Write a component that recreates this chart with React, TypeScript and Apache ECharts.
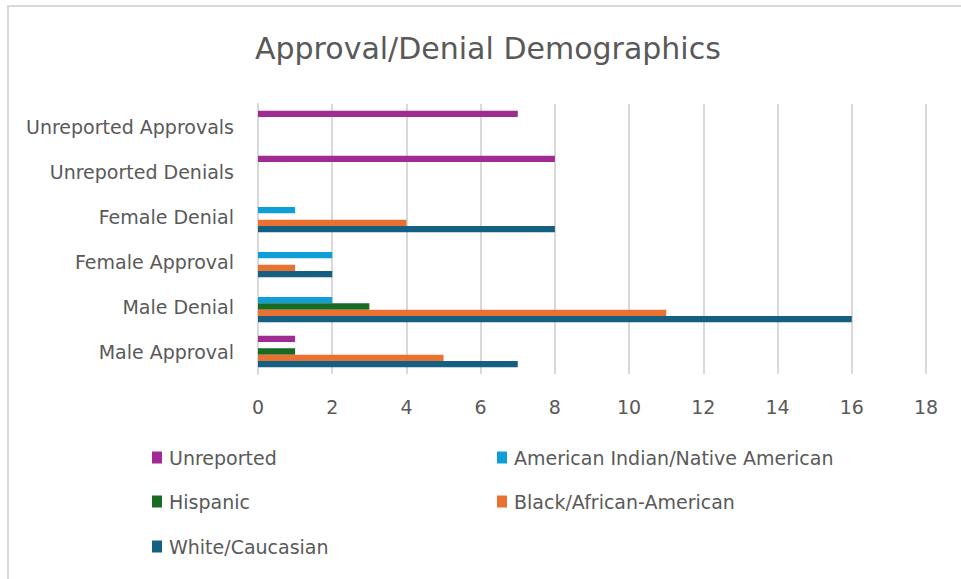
import React, { useEffect, useRef } from "react";
import * as echarts from "echarts";

const categories = [
  "Male Approval",
  "Male Denial",
  "Female Approval",
  "Female Denial",
  "Unreported Denials",
  "Unreported Approvals",
];

const seriesNames = [
  "Unreported",
  "American Indian/Native American",
  "Hispanic",
  "Black/African-American",
  "White/Caucasian",
];

const unreported = [1, 0, 0, 0, 8, 7];
const americanIndian = [0, 2, 2, 1, 0, 0];
const hispanic = [1, 3, 0, 0, 0, 0];
const black = [5, 11, 1, 4, 0, 0];
const white = [7, 16, 2, 8, 0, 0];

const xTicks = [0, 2, 4, 6, 8, 10, 12, 14, 16, 18];

const colors = ["#A02B93", "#0F9ED5", "#196B24", "#E97132", "#156082"];
const seriesValues = [unreported, americanIndian, hispanic, black, white];

const FONT = "'DejaVu Sans', sans-serif";
const TEXT = "#595959";

export default function App() {
  const ref = useRef<HTMLDivElement>(null);
  useEffect(() => {
    if (!ref.current) return;
    const chart = echarts.init(ref.current, undefined, { renderer: "svg" });
    const legendPos = [
      { left: 152, top: 448 },
      { left: 497, top: 448 },
      { left: 152, top: 492 },
      { left: 497, top: 492 },
      { left: 152, top: 537 },
    ];
    chart.setOption({
      animation: false,
      backgroundColor: "#ffffff",
      title: {
        text: "Approval/Denial Demographics",
        left: 255,
        top: 33,
        padding: 0,
        textStyle: { fontFamily: FONT, fontSize: 30, fontWeight: "normal", color: TEXT },
      },
      legend: seriesNames.map((n, i) => ({
        data: [n],
        left: legendPos[i].left,
        top: legendPos[i].top,
        padding: 0,
        icon: "rect",
        itemWidth: 10,
        itemHeight: 12,
        selectedMode: false,
        textStyle: { fontFamily: FONT, fontSize: 19, color: TEXT, padding: [0, 0, 0, 2] },
      })),
      grid: { left: 258, right: 35, top: 104, height: 270, containLabel: false },
      xAxis: {
        type: "value",
        min: xTicks[0],
        max: xTicks[xTicks.length - 1],
        interval: 2,
        axisLine: { show: false },
        axisTick: { show: false },
        splitLine: { show: true, lineStyle: { color: "#d9d9d9", width: 2 } },
        axisLabel: { fontFamily: FONT, fontSize: 19, color: TEXT, margin: 23 },
      },
      yAxis: {
        type: "category",
        data: categories,
        axisLine: { show: true, lineStyle: { color: "#d9d9d9", width: 2 } },
        axisTick: { show: false },
        axisLabel: { fontFamily: FONT, fontSize: 19, color: TEXT, margin: 24 },
      },
      series: seriesNames.map((n, i) => ({
        name: n,
        type: "bar",
        data: seriesValues[i],
        barGap: "0%",
        barCategoryGap: "30%",
        itemStyle: { color: colors[i] },
      })),
      graphic: [
        { type: "line", shape: { x1: 7, y1: 6, x2: 961, y2: 6 }, style: { stroke: "#d9d9d9", lineWidth: 2 } },
        { type: "line", shape: { x1: 8, y1: 5, x2: 8, y2: 579 }, style: { stroke: "#d9d9d9", lineWidth: 2 } },
      ],
    });
    return () => chart.dispose();
  }, []);
  return (
    <div
      ref={ref}
      style={{ position: "fixed", left: 0, top: 0, width: 961, height: 579 }}
    />
  );
}
